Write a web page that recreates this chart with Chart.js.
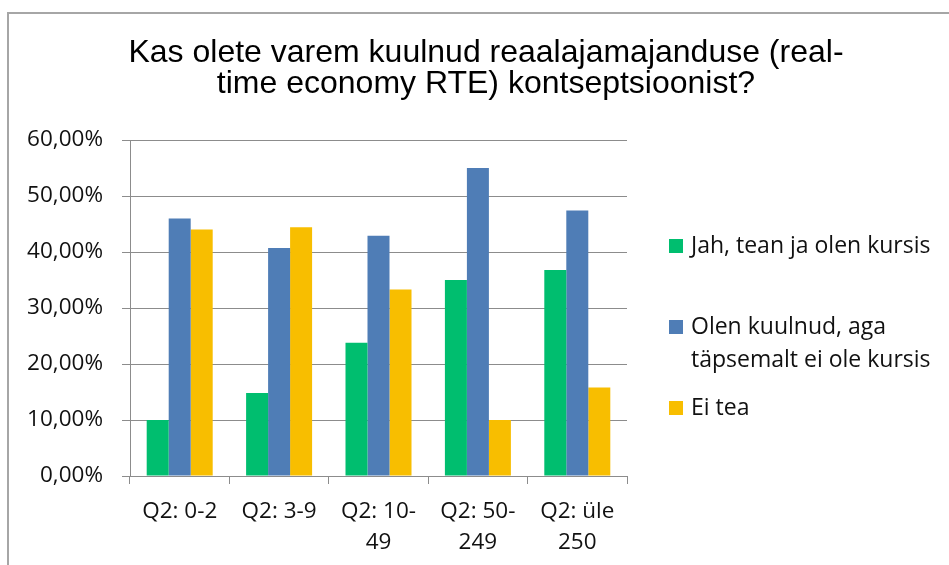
<!DOCTYPE html>
<html>
<head>
<meta charset="utf-8">
<script src="https://cdn.jsdelivr.net/npm/chart.js@4.4.1/dist/chart.umd.min.js"></script>
<style>
  body { margin: 0; background: #fff; }
  #wrap { width: 949px; height: 565px; position: relative; }
</style>
</head>
<body>
<div id="wrap"><canvas id="myChart"></canvas></div>
<script>
// data
const categories = [['Q2: 0-2'], ['Q2: 3-9'], ['Q2: 10-', '49'], ['Q2: 50-', '249'], ['Q2: üle', '250']];
const seriesNames = ['Jah, tean ja olen kursis', 'Olen kuulnud, aga täpsemalt ei ole kursis', 'Ei tea'];
const jahValues = [10.0, 14.8, 23.8, 35.0, 36.8];
const kuulnudValues = [46.0, 40.7, 42.9, 55.0, 47.4];
const eiTeaValues = [44.0, 44.4, 33.3, 10.0, 15.8];
const yTicks = [0, 10, 20, 30, 40, 50, 60];
const titleLines = ['Kas olete varem kuulnud reaalajamajanduse (real-', 'time economy RTE) kontseptsioonist?'];
const colors = ['#00be6f', '#4f7db6', '#f8be00'];

const gridGray = '#8c8c8c';
const textColor = '#111';
const legendRows = [246, 327, 408];

wrap_text = (ctx, text, maxW) => {
    const words = text.split(' ');
    const lines = [];
    let cur = '';
    words.forEach(w => {
        const test = cur ? cur + ' ' + w : w;
        if (cur && ctx.measureText(test).width > maxW) {
            lines.push(cur);
            cur = w;
        } else {
            cur = test;
        }
    });
    if (cur) lines.push(cur);
    return lines;
}

const frame = {
    id: 'frame',
    beforeDraw(chart) {
        const ctx = chart.ctx;
        ctx.save();
        ctx.fillStyle = '#fff';
        ctx.fillRect(0, 0, chart.width, chart.height);
        ctx.strokeStyle = '#a6a6a6';
        ctx.lineWidth = 2;
        ctx.strokeRect(8, 13, 1000, 1000);
        ctx.restore();
    }
};

const titleAndLegend = {
    id: 'titleAndLegend',
    afterDraw(chart) {
        const ctx = chart.ctx;
        ctx.save();
        // title
        ctx.fillStyle = '#000';
        ctx.font = '32px "Liberation Sans", Arial, sans-serif';
        ctx.textAlign = 'center';
        ctx.textBaseline = 'alphabetic';
        titleLines.forEach((ln, i) => ctx.fillText(ln, 486, 62 + i * 31));
        // legend
        ctx.font = '23px "Open Sans", sans-serif';
        ctx.textAlign = 'left';
        ctx.textBaseline = 'middle';
        chart.data.datasets.forEach((ds, i) => {
            const y0 = legendRows[i];
            ctx.fillStyle = ds.backgroundColor;
            ctx.fillRect(669, y0 - 7, 14, 14);
            ctx.fillStyle = textColor;
            wrap_text(ctx, ds.label, 255).forEach((ln, k) => ctx.fillText(ln, 691, y0 + k * 33));
        });
        ctx.restore();
    }
};

const allValues = [jahValues, kuulnudValues, eiTeaValues];

new Chart(document.getElementById('myChart'), {
    type: 'bar',
    data: {
        labels: categories,
        datasets: seriesNames.map((name, i) => ({
            label: name,
            data: allValues[i],
            backgroundColor: colors[i],
            borderWidth: 0,
            categoryPercentage: 0.664,
            barPercentage: 1.0
        }))
    },
    options: {
        responsive: true,
        maintainAspectRatio: false,
        animation: false,
        layout: { padding: { top: 140, right: 322, left: 0, bottom: 0 } },
        plugins: {
            legend: { display: false },
            title: { display: false },
            tooltip: { enabled: false }
        },
        scales: {
            x: {
                afterFit: s => { s.height = 89; },
                grid: { display: true, drawOnChartArea: false, drawTicks: true, tickLength: 8, color: gridGray, offset: true },
                border: { display: true, color: gridGray },
                ticks: {
                    color: textColor,
                    padding: 12,
                    maxRotation: 0,
                    font: { family: '"Open Sans", sans-serif', size: 22.5, lineHeight: 1.39 }
                }
            },
            y: {
                min: yTicks[0],
                max: yTicks[yTicks.length - 1],
                afterFit: s => { s.width = 130; },
                afterBuildTicks: s => { s.ticks = yTicks.map(v => ({ value: v })); },
                grid: { color: gridGray, tickLength: 8, drawTicks: true },
                border: { display: true, color: gridGray },
                ticks: {
                    color: textColor,
                    padding: 19,
                    font: { family: '"Open Sans", sans-serif', size: 22.5 },
                    callback: v => v.toFixed(2).replace('.', ',') + '%'
                }
            }
        }
    },
    plugins: [frame, titleAndLegend]
});
</script>
</body>
</html>
